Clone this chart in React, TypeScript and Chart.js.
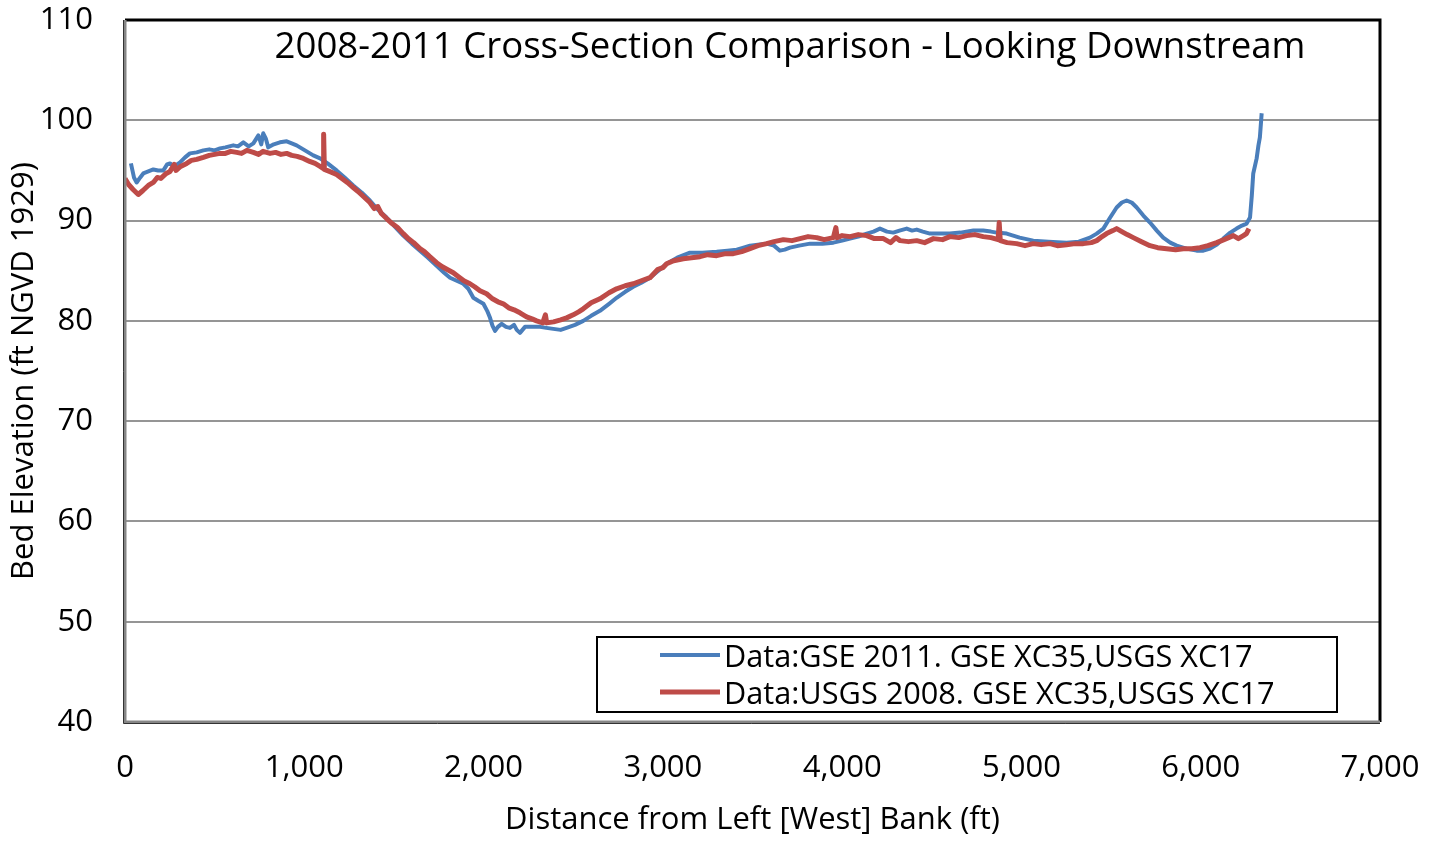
import React, { useEffect, useRef } from "react";
import { Chart, registerables } from "chart.js";

Chart.register(...registerables);

const titleText = "2008-2011 Cross-Section Comparison - Looking Downstream";
const xAxisTitle = "Distance from Left [West] Bank (ft)";
const yAxisTitle = "Bed Elevation (ft NGVD 1929)";
const blueLabel = "Data:GSE 2011. GSE XC35,USGS XC17";
const redLabel = "Data:USGS 2008. GSE XC35,USGS XC17";

const blueX = [
  33, 50, 65, 85, 102, 130, 158, 185, 214, 235, 251, 275, 307, 335, 362, 400, 437, 470, 500, 530,
  560, 604, 630, 660, 690, 716, 744, 760, 771, 785, 799, 830, 864, 902, 930, 957, 985, 1013, 1050, 1088,
  1130, 1180, 1225, 1273, 1320, 1366, 1410, 1459, 1505, 1552, 1600, 1645, 1690, 1738, 1780, 1813, 1850, 1887, 1915, 1943,
  1970, 1999, 2020, 2036, 2050, 2064, 2080, 2101, 2125, 2147, 2170, 2185, 2203, 2231, 2270, 2315, 2350, 2389, 2430, 2463,
  2510, 2556, 2600, 2649, 2700, 2742, 2790, 2835, 2880, 2928, 2975, 3021, 3080, 3151, 3220, 3300, 3360, 3412, 3450, 3486,
  3530, 3579, 3620, 3653, 3680, 3709, 3760, 3821, 3890, 3951, 4000, 4044, 4090, 4137, 4175, 4211, 4250, 4285, 4320, 4360,
  4390, 4416, 4450, 4490, 4550, 4601, 4660, 4732, 4787, 4830, 4862, 4918, 4990, 5066, 5150, 5252, 5320, 5382, 5420, 5457,
  5495, 5531, 5560, 5587, 5615, 5643, 5680, 5717, 5755, 5791, 5830, 5866, 5920, 5977, 6015, 6052, 6090, 6126, 6165, 6200,
  6230, 6256, 6275, 6285, 6293, 6312, 6322, 6330, 6340,
];
const blueY = [
  95.7, 94.3, 93.8, 94.3, 94.7, 94.9, 95.1, 95.0, 95.0, 95.6, 95.7, 95.4, 95.8, 96.3, 96.7, 96.8, 97.0, 97.1, 97.0, 97.2,
  97.3, 97.5, 97.4, 97.8, 97.4, 97.7, 98.5, 97.6, 98.7, 98.2, 97.3, 97.6, 97.8, 97.9, 97.7, 97.5, 97.2, 96.9, 96.5, 96.2,
  95.7, 95.0, 94.3, 93.5, 92.8, 92.0, 91.1, 90.3, 89.4, 88.5, 87.7, 87.0, 86.3, 85.5, 84.8, 84.3, 84.0, 83.7, 83.2, 82.3,
  82.0, 81.7, 81.0, 80.3, 79.5, 79.0, 79.4, 79.7, 79.4, 79.3, 79.6, 79.1, 78.8, 79.4, 79.4, 79.4, 79.3, 79.2, 79.1, 79.3,
  79.6, 80.0, 80.5, 81.0, 81.7, 82.3, 82.9, 83.4, 83.8, 84.3, 85.0, 85.7, 86.3, 86.8, 86.8, 86.9, 87.0, 87.1, 87.3, 87.5,
  87.6, 87.7, 87.5, 87.0, 87.1, 87.3, 87.5, 87.7, 87.7, 87.8, 88.0, 88.2, 88.4, 88.7, 88.9, 89.2, 88.9, 88.8, 89.0, 89.2,
  89.0, 89.1, 88.9, 88.7, 88.7, 88.7, 88.8, 89.0, 89.0, 88.9, 88.8, 88.7, 88.3, 88.0, 87.9, 87.8, 87.9, 88.3, 88.7, 89.2,
  90.3, 91.3, 91.8, 92.0, 91.8, 91.3, 90.5, 89.8, 89.0, 88.3, 87.8, 87.5, 87.2, 87.0, 87.0, 87.2, 87.6, 88.2, 88.8, 89.2,
  89.5, 89.7, 90.3, 92.5, 94.7, 96.2, 97.5, 98.3, 100.7,
];

const redX = [
  0, 20, 45, 74, 100, 130, 158, 180, 200, 230, 251, 275, 285, 310, 344, 370, 400, 437, 470, 500,
  530, 560, 590, 623, 650, 680, 716, 745, 770, 809, 840, 870, 902, 930, 960, 995, 1030, 1060, 1088, 1105,
  1108, 1112, 1140, 1180, 1210, 1240, 1273, 1300, 1330, 1366, 1390, 1410, 1430, 1459, 1490, 1520, 1552, 1580, 1610, 1645,
  1670, 1700, 1738, 1770, 1800, 1831, 1860, 1890, 1924, 1950, 1980, 2017, 2050, 2080, 2110, 2140, 2170, 2203, 2240, 2270,
  2296, 2330, 2345, 2352, 2390, 2430, 2463, 2500, 2530, 2556, 2600, 2649, 2700, 2742, 2790, 2835, 2880, 2928, 2970, 3000,
  3021, 3060, 3114, 3160, 3207, 3250, 3300, 3350, 3393, 3440, 3486, 3530, 3579, 3620, 3672, 3720, 3765, 3810, 3858, 3900,
  3951, 3965, 3972, 4000, 4044, 4090, 4137, 4180, 4230, 4270, 4300, 4323, 4370, 4416, 4460, 4509, 4560, 4601, 4650, 4694,
  4740, 4787, 4830, 4870, 4876, 4882, 4920, 4973, 5020, 5066, 5110, 5159, 5200, 5252, 5300, 5345, 5390, 5420, 5450, 5475,
  5510, 5531, 5560, 5590, 5624, 5670, 5717, 5760, 5810, 5860, 5903, 5950, 5996, 6040, 6089, 6130, 6182, 6210, 6238, 6255,
  6269,
];
const redY = [
  94.2, 93.6, 93.1, 92.6, 93.0, 93.5, 93.8, 94.3, 94.2, 94.7, 94.9, 95.6, 95.0, 95.4, 95.7, 96.0, 96.1, 96.3, 96.5, 96.6,
  96.7, 96.7, 96.9, 96.8, 96.7, 97.0, 96.8, 96.6, 96.9, 96.7, 96.8, 96.6, 96.7, 96.5, 96.4, 96.2, 95.9, 95.7, 95.4, 95.2,
  98.6, 95.1, 94.9, 94.6, 94.2, 93.8, 93.3, 92.9, 92.4, 91.8, 91.2, 91.4, 90.7, 90.2, 89.7, 89.3, 88.7, 88.2, 87.8, 87.2,
  86.9, 86.4, 85.8, 85.4, 85.1, 84.8, 84.4, 84.0, 83.7, 83.4, 83.0, 82.7, 82.2, 81.9, 81.7, 81.3, 81.1, 80.8, 80.4, 80.2,
  80.0, 79.8, 80.6, 79.8, 79.9, 80.1, 80.3, 80.6, 80.9, 81.2, 81.8, 82.2, 82.8, 83.2, 83.5, 83.7, 84.0, 84.3, 85.1, 85.3,
  85.7, 86.0, 86.2, 86.3, 86.4, 86.6, 86.5, 86.7, 86.7, 86.9, 87.2, 87.5, 87.7, 87.9, 88.1, 88.0, 88.2, 88.4, 88.3, 88.1,
  88.3, 89.3, 88.3, 88.5, 88.4, 88.6, 88.5, 88.2, 88.2, 87.8, 88.3, 88.0, 87.9, 88.0, 87.8, 88.2, 88.1, 88.4, 88.3, 88.5,
  88.6, 88.4, 88.3, 88.1, 89.8, 88.0, 87.8, 87.7, 87.5, 87.7, 87.6, 87.7, 87.5, 87.6, 87.7, 87.7, 87.8, 88.0, 88.4, 88.7,
  89.0, 89.2, 88.9, 88.6, 88.3, 87.9, 87.5, 87.3, 87.2, 87.1, 87.2, 87.2, 87.3, 87.5, 87.8, 88.1, 88.5, 88.2, 88.5, 88.7,
  89.2,
];

const xTicks = [0, 1000, 2000, 3000, 4000, 5000, 6000, 7000];
const yTicks = [40, 50, 60, 70, 80, 90, 100, 110];

const BLUE = "#4A7EBB";
const RED = "#BE4B48";
const FONT = "'Open Sans', sans-serif";

const toPoints = (xs: number[], ys: number[]) => xs.map((x, i) => ({ x, y: ys[i] }));

const zeroPadding = (scale: any) => {
  scale.paddingTop = 0;
  scale.paddingBottom = 0;
  scale.paddingLeft = 0;
  scale.paddingRight = 0;
};

const decorPlugin = {
  id: "decor",
  afterDatasetsDraw(chart: any) {
    const { ctx, chartArea } = chart;
    const { left, right, top, bottom } = chartArea;
    ctx.save();
    ctx.strokeStyle = "#000";
    ctx.lineWidth = 3;
    ctx.beginPath();
    ctx.moveTo(left, top);
    ctx.lineTo(right, top);
    ctx.lineTo(right, bottom);
    ctx.stroke();
    ctx.strokeStyle = "#868686";
    ctx.lineWidth = 3;
    ctx.beginPath();
    ctx.moveTo(left, top);
    ctx.lineTo(left, bottom);
    ctx.lineTo(right, bottom);
    ctx.stroke();
    ctx.strokeStyle = "#333";
    ctx.lineWidth = 1;
    ctx.beginPath();
    ctx.moveTo(left - 1.5, top);
    ctx.lineTo(left - 1.5, bottom + 1.5);
    ctx.lineTo(right, bottom + 1.5);
    ctx.stroke();

    // title
    ctx.fillStyle = "#000";
    ctx.font = `36.6px ${FONT}`;
    ctx.textAlign = "center";
    ctx.textBaseline = "alphabetic";
    ctx.fillText(titleText, 790, 58);

    // legend
    const lx = 597, ly = 637, lw = 740, lh = 75;
    ctx.fillStyle = "#fff";
    ctx.fillRect(lx, ly, lw, lh);
    ctx.strokeStyle = "#000";
    ctx.lineWidth = 2;
    ctx.strokeRect(lx, ly, lw, lh);
    const items = [
      { label: blueLabel, color: BLUE, width: 4, y: 655, base: 667 },
      { label: redLabel, color: RED, width: 5, y: 692, base: 704 },
    ];
    ctx.font = `30.7px ${FONT}`;
    ctx.textAlign = "left";
    ctx.textBaseline = "alphabetic";
    for (const it of items) {
      ctx.strokeStyle = it.color;
      ctx.lineWidth = it.width;
      ctx.beginPath();
      ctx.moveTo(660, it.y);
      ctx.lineTo(720, it.y);
      ctx.stroke();
      ctx.fillStyle = "#000";
      ctx.fillText(it.label, 724, it.base);
    }
    ctx.restore();
  },
};

export default function App() {
  const ref = useRef<HTMLCanvasElement | null>(null);
  useEffect(() => {
    document.body.style.margin = "0";
    const canvas = ref.current;
    if (!canvas) return;
    const chart = new Chart(canvas, {
      type: "scatter",
      data: {
        datasets: [
          {
            label: blueLabel,
            data: toPoints(blueX, blueY),
            showLine: true,
            borderColor: BLUE,
            backgroundColor: BLUE,
            borderWidth: 4,
            pointRadius: 0,
            tension: 0,
            borderJoinStyle: "round",
            order: 1,
          },
          {
            label: redLabel,
            data: toPoints(redX, redY),
            showLine: true,
            borderColor: RED,
            backgroundColor: RED,
            borderWidth: 5,
            pointRadius: 0,
            tension: 0,
            borderJoinStyle: "round",
            order: 0,
          },
        ],
      },
      options: {
        responsive: false,
        animation: false,
        layout: { padding: { left: 0, top: 20, right: 62, bottom: 0 } },
        plugins: {
          legend: { display: false },
          tooltip: { enabled: false },
          title: { display: false },
        },
        scales: {
          x: {
            type: "linear",
            min: 0,
            max: 7000,
            afterBuildTicks: (scale: any) => {
              scale.ticks = xTicks.map((v) => ({ value: v }));
            },
            afterFit: (scale: any) => {
              scale.height = 120;
              zeroPadding(scale);
            },
            grid: { display: false, drawTicks: false },
            border: { display: false },
            ticks: {
              padding: 28,
              color: "#000",
              font: { family: FONT, size: 31 },
              maxRotation: 0,
              callback: (v: any) => Number(v).toLocaleString("en-US"),
            },
            title: {
              display: true,
              text: xAxisTitle,
              color: "#000",
              font: { family: FONT, size: 31 },
              padding: { top: 0, bottom: 3 },
            },
          },
          y: {
            type: "linear",
            min: 40,
            max: 110,
            afterBuildTicks: (scale: any) => {
              scale.ticks = yTicks.map((v) => ({ value: v }));
            },
            afterFit: (scale: any) => {
              scale.width = 125;
              zeroPadding(scale);
            },
            grid: { color: "#959595", lineWidth: 2, drawTicks: false },
            border: { display: false },
            ticks: {
              padding: 32,
              color: "#000",
              font: { family: FONT, size: 31 },
            },
            title: {
              display: true,
              text: yAxisTitle,
              color: "#000",
              font: { family: FONT, size: 31 },
              padding: { top: 6, bottom: 0 },
            },
          },
        },
      },
      plugins: [decorPlugin],
    });
    return () => chart.destroy();
  }, []);
  return (
    <div style={{ position: "absolute", left: 0, top: 0, width: 1442, height: 842, background: "#fff" }}>
      <canvas ref={ref} width={1442} height={842} style={{ width: 1442, height: 842 }} />
    </div>
  );
}
